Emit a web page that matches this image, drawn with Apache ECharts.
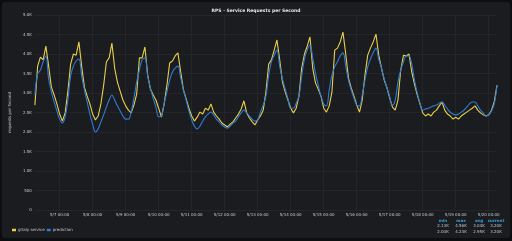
<!DOCTYPE html>
<html>
<head>
<meta charset="utf-8">
<script src="https://cdn.jsdelivr.net/npm/echarts@6/dist/echarts.min.js"></script>
<style>
  html, body { margin: 0; padding: 0; background: #0d0e10; }
  #main { width: 512px; height: 241px; }
</style>
</head>
<body>
<div id="main"></div>
<script>
// 2-hourly samples from 5/6 06:00 to 5/20 06:00
var startDay = 6, startHour = 6, stepHours = 2;

var gitalyService = [
  2690, 3690, 3920, 3850, 4200, 3690, 3150, 2950, 2720, 2460,
  2280, 2490, 3050, 3740, 4000, 3970, 4310, 3690, 3150, 2920,
  2720, 2460, 2310, 2410, 2720, 3200, 3800, 3900, 4280, 3640,
  3280, 3050, 2820, 2670, 2560, 2490, 2690, 2970, 3900, 3900,
  4180, 3460, 3100, 2950, 2820, 2610, 2380, 2720, 3200, 3770,
  3820, 3950, 4030, 3540, 3080, 2850, 2610, 2410, 2280, 2380,
  2510, 2460, 2610, 2560, 2720, 2510, 2410, 2330, 2230, 2180,
  2130, 2200, 2260, 2360, 2460, 2590, 2800, 2490, 2360, 2260,
  2180, 2310, 2410, 2560, 3030, 3740, 3850, 4100, 4360, 3850,
  3280, 3030, 2820, 2610, 2490, 2610, 2920, 3640, 4000, 4200,
  4440, 3640, 3260, 3100, 2920, 2610, 2510, 2670, 3030, 4100,
  4150, 4310, 4560, 4000, 3380, 3130, 2920, 2690, 2510, 2820,
  3460, 3970, 4150, 4310, 4510, 3970, 3640, 3330, 3130, 2870,
  2640, 2560, 2820, 3590, 3970, 3950, 4000, 3540, 3230, 2950,
  2720, 2490, 2410, 2460, 2410, 2510, 2560, 2670, 2770, 2560,
  2460, 2410, 2330, 2380, 2330, 2410, 2460, 2510, 2560, 2610,
  2670, 2560, 2490, 2440, 2410, 2440, 2560, 2770, 3200
];

var prediction = [
  2950, 3490, 3590, 3800, 3950, 3360, 3030, 2770, 2540, 2330,
  2230, 2390, 2820, 3440, 3690, 3820, 3870, 3440, 3080, 2770,
  2460, 2200, 2000, 2080, 2260, 2440, 2640, 2820, 2950, 2820,
  2670, 2540, 2410, 2330, 2330, 2510, 2870, 3280, 3590, 3850,
  3900, 3440, 3130, 2870, 2640, 2390, 2410, 2740, 3030, 3330,
  3540, 3640, 3690, 3390, 3080, 2820, 2540, 2310, 2150, 2080,
  2150, 2280, 2390, 2460, 2510, 2440, 2330, 2260, 2180, 2130,
  2100, 2150, 2230, 2280, 2390, 2490, 2560, 2490, 2410, 2330,
  2280, 2310, 2510, 2690, 2920, 3460, 3800, 3970, 4100, 3690,
  3360, 3100, 2850, 2610, 2610, 2740, 2920, 3440, 3870, 4100,
  4230, 3900, 3510, 3200, 2920, 2720, 2670, 3080, 3460, 3670,
  3800, 3950, 4030, 3690, 3330, 3080, 2870, 2690, 2670, 2950,
  3330, 3670, 3870, 4030, 4150, 3870, 3640, 3360, 3130, 2900,
  2690, 2820, 3280, 3590, 3800, 3950, 3950, 3740, 3330, 3000,
  2740, 2560, 2590, 2610, 2640, 2670, 2690, 2740, 2770, 2690,
  2590, 2510, 2460, 2440, 2460, 2510, 2560, 2640, 2720, 2770,
  2770, 2670, 2560, 2490, 2410, 2440, 2540, 2720, 3200
];

var seriesNames = ['gitaly service', 'prediction'];
var seriesColors = ['#e8d04a', '#2f7ad6'];

function pad(n) { return n < 10 ? '0' + n : '' + n; }
var categories = [];
for (var i = 0; i < gitalyService.length; i++) {
  var h = startHour + i * stepHours;
  var day = startDay + Math.floor(h / 24);
  categories.push('5/' + day + ' ' + pad(h % 24) + ':00');
}
function isMidnight(idx, val) { return / 00:00$/.test(val); }

function fmtK(v) { return (v / 1000).toFixed(2) + 'K'; }
function stats(arr) {
  var mn = Math.min.apply(null, arr), mx = Math.max.apply(null, arr);
  var sum = 0;
  for (var k = 0; k < arr.length; k++) sum += arr[k];
  return [fmtK(mn), fmtK(mx), fmtK(sum / arr.length), fmtK(arr[arr.length - 1])];
}

var myChart = echarts.init(document.getElementById('main'));
var txt = '#c7c7c7';
var colX = [443, 461, 479, 496];
var heads = ['min', 'max', 'avg', 'current'];
var graphics = [
  { type: 'rect', shape: { x: 2, y: 2, width: 508, height: 236, r: 2 }, style: { fill: '#1b1c1f' }, z: -10 }
];
var rowsData = [stats(gitalyService), stats(prediction)];
for (var c = 0; c < 4; c++) {
  graphics.push({ type: 'text', x: colX[c], y: 221, style: { text: heads[c], fill: '#33a2e5', font: 'bold 4px "DejaVu Sans"', align: 'center', verticalAlign: 'middle' } });
  for (var r = 0; r < 2; r++) {
    graphics.push({ type: 'text', x: colX[c], y: 226 + r * 5.5, style: { text: rowsData[r][c], fill: txt, font: '4px "DejaVu Sans"', align: 'center', verticalAlign: 'middle' } });
  }
}

option = {
  backgroundColor: '#0d0e10',
  animation: false,
  title: {
    text: 'RPS - Service Requests per Second',
    left: 'center',
    top: 3,
    textStyle: { color: '#e6e6e6', fontSize: 4.5, fontWeight: 'bold', fontFamily: 'DejaVu Sans' }
  },
  legend: {
    orient: 'vertical',
    left: 7,
    top: 223,
    itemWidth: 4,
    itemHeight: 2.5,
    itemGap: 2,
    icon: 'rect',
    data: seriesNames,
    textStyle: { color: txt, fontSize: 4, fontFamily: 'DejaVu Sans', padding: [0, 0, 0, -3] }
  },
  grid: { left: 18, right: 15, top: 15, bottom: 31 },
  xAxis: {
    type: 'category',
    data: categories,
    boundaryGap: false,
    axisLine: { show: false },
    axisTick: { show: false },
    axisLabel: { interval: isMidnight, color: txt, fontSize: 4, fontFamily: 'DejaVu Sans', margin: 3 },
    splitLine: { show: true, interval: isMidnight, lineStyle: { color: '#2b2c30', width: 0.6 } }
  },
  yAxis: {
    type: 'value',
    min: 0,
    max: 5000,
    interval: 500,
    name: 'requests per Second',
    nameLocation: 'middle',
    nameGap: 13,
    nameTextStyle: { color: txt, fontSize: 4, fontFamily: 'DejaVu Sans' },
    axisLine: { show: false },
    axisTick: { show: false },
    axisLabel: {
      color: txt, fontSize: 4, fontFamily: 'DejaVu Sans', margin: 3,
      formatter: function (v) { return v === 0 ? '0' : (v < 1000 ? '' + v : (v / 1000).toFixed(1) + 'K'); }
    },
    splitLine: { lineStyle: { color: '#2b2c30', width: 0.6 } }
  },
  graphic: graphics,
  series: [
    {
      name: seriesNames[0], type: 'line', data: gitalyService, showSymbol: false,
      itemStyle: { color: seriesColors[0] }, lineStyle: { width: 1.1, color: seriesColors[0] }
    },
    {
      name: seriesNames[1], type: 'line', data: prediction, showSymbol: false, smooth: 0.4,
      itemStyle: { color: seriesColors[1] }, lineStyle: { width: 1.1, color: seriesColors[1] }
    }
  ]
};
myChart.setOption(option);
</script>
</body>
</html>
